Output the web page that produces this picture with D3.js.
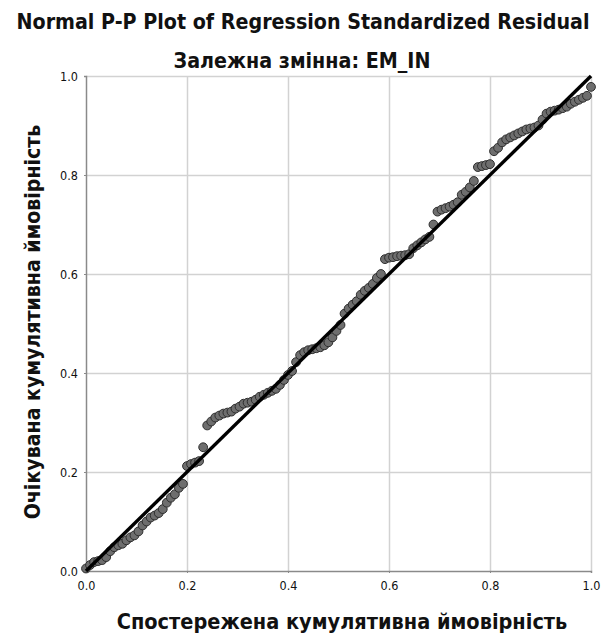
<!DOCTYPE html>
<html>
<head>
<meta charset="utf-8">
<script src="https://cdn.jsdelivr.net/npm/d3@7"></script>
<style>
  body { margin: 0; background: #fff; }
  text { font-family: "DejaVu Sans Condensed", "DejaVu Sans", sans-serif; fill: #111; }
</style>
</head>
<body>
<svg id="chart" width="606" height="637"></svg>
<script>
// Observed cumulative probability of the sorted standardized residuals
const observed = [
  0.000,0.008,0.016,0.024,0.032,0.040,0.048,0.056,0.064,0.072,
  0.080,0.088,0.096,0.104,0.112,0.120,0.128,0.136,0.144,0.152,
  0.160,0.168,0.176,0.184,0.192,0.200,0.208,0.216,0.224,0.232,
  0.240,0.248,0.256,0.264,0.272,0.280,0.288,0.296,0.304,0.312,
  0.320,0.328,0.336,0.344,0.352,0.360,0.368,0.376,0.384,0.392,
  0.400,0.408,0.416,0.424,0.432,0.440,0.448,0.456,0.464,0.472,
  0.480,0.488,0.496,0.504,0.512,0.520,0.528,0.536,0.544,0.552,
  0.560,0.568,0.576,0.584,0.592,0.600,0.608,0.616,0.624,0.632,
  0.640,0.648,0.656,0.664,0.672,0.680,0.688,0.696,0.704,0.712,
  0.720,0.728,0.736,0.744,0.752,0.760,0.768,0.776,0.784,0.792,
  0.800,0.808,0.816,0.824,0.832,0.840,0.848,0.856,0.864,0.872,
  0.880,0.888,0.896,0.904,0.912,0.920,0.928,0.936,0.944,0.952,
  0.960,0.968,0.976,0.984,0.992,1.000
];

// Expected cumulative probability under the normal distribution
const expected = [
  0.005,0.012,0.018,0.020,0.022,0.028,0.040,0.048,0.052,0.055,
  0.062,0.068,0.072,0.080,0.092,0.100,0.108,0.112,0.117,0.125,
  0.138,0.148,0.155,0.168,0.176,0.212,0.216,0.219,0.222,0.250,
  0.294,0.302,0.310,0.314,0.318,0.320,0.322,0.328,0.332,0.338,
  0.340,0.342,0.346,0.352,0.356,0.360,0.364,0.368,0.376,0.386,
  0.396,0.404,0.422,0.436,0.442,0.446,0.448,0.450,0.452,0.456,
  0.462,0.472,0.485,0.497,0.520,0.530,0.538,0.545,0.558,0.566,
  0.572,0.580,0.592,0.600,0.630,0.633,0.634,0.636,0.637,0.638,
  0.640,0.652,0.658,0.664,0.670,0.675,0.700,0.726,0.730,0.733,
  0.736,0.740,0.745,0.760,0.766,0.775,0.788,0.816,0.818,0.820,
  0.822,0.848,0.855,0.866,0.872,0.876,0.880,0.884,0.888,0.892,
  0.894,0.896,0.900,0.912,0.924,0.928,0.930,0.932,0.935,0.938,
  0.944,0.948,0.952,0.956,0.960,0.978
];

// Reference line of a perfect normal fit
const refLine = [[0, 0], [1, 1]];

const tickValues = [0.0, 0.2, 0.4, 0.6, 0.8, 1.0];
const tickLabels = ["0.0", "0.2", "0.4", "0.6", "0.8", "1.0"];

const titleText = "Normal P-P Plot of Regression Standardized Residual";
const subtitleText = "Залежна змінна: EM_IN";
const xLabelText = "Спостережена кумулятивна ймовірність";
const yLabelText = "Очікувана кумулятивна ймовірність";

const svg = d3.select("#chart");
const plot = { left: 86, right: 591, top: 76, bottom: 571 };

const x = d3.scaleLinear().domain([0, 1]).range([plot.left, plot.right]);
const y = d3.scaleLinear().domain([0, 1]).range([plot.bottom, plot.top]);

// Scale a text element's font size so it spans a given width
function fitWidth(sel, width, baseSize) {
  sel.attr("font-size", baseSize);
  const w = sel.node().getComputedTextLength();
  sel.attr("font-size", (baseSize * width / w).toFixed(2));
}

// Grid lines
const gridColor = "#d2d2d2";
svg.append("g")
  .attr("transform", `translate(0,${plot.bottom})`)
  .call(d3.axisBottom(x).tickValues(tickValues.slice(1)).tickSize(-(plot.bottom - plot.top)).tickFormat(""))
  .call(g => g.select(".domain").remove())
  .call(g => g.selectAll("line").attr("stroke", gridColor).attr("stroke-width", 1.5));

svg.append("g")
  .attr("transform", `translate(${plot.left},0)`)
  .call(d3.axisLeft(y).tickValues(tickValues.slice(1)).tickSize(-(plot.right - plot.left)).tickFormat(""))
  .call(g => g.select(".domain").remove())
  .call(g => g.selectAll("line").attr("stroke", gridColor).attr("stroke-width", 1.5));

// Axes
const axisColor = "#8a8a8a";
const xAxis = svg.append("g")
  .attr("transform", `translate(0,${plot.bottom})`)
  .call(d3.axisBottom(x).tickValues(tickValues).tickSize(2).tickPadding(8)
    .tickFormat((d, i) => tickLabels[i]));
const yAxis = svg.append("g")
  .attr("transform", `translate(${plot.left},0)`)
  .call(d3.axisLeft(y).tickValues(tickValues).tickSize(2).tickPadding(6)
    .tickFormat((d, i) => tickLabels[i]));

[xAxis, yAxis].forEach(g => {
  g.select(".domain").attr("stroke", axisColor).attr("stroke-width", 1.5);
  g.selectAll(".tick line").attr("stroke", axisColor);
  g.selectAll(".tick text")
    .attr("font-family", "DejaVu Sans, sans-serif")
    .attr("font-size", 12.5)
    .attr("fill", "#222");
});

// Points
svg.append("g")
  .selectAll("circle")
  .data(observed.map((o, i) => [o, expected[i]]))
  .join("circle")
  .attr("cx", d => x(d[0]))
  .attr("cy", d => y(d[1]))
  .attr("r", 4.4)
  .attr("fill", "#6e6e6e")
  .attr("stroke", "#2e2e2e")
  .attr("stroke-width", 1);

// Diagonal reference line
svg.append("path")
  .datum(refLine)
  .attr("d", d3.line().x(d => x(d[0])).y(d => y(d[1])))
  .attr("stroke", "#000")
  .attr("stroke-width", 3.4)
  .attr("fill", "none");

// Titles
const title = svg.append("text")
  .attr("x", 303).attr("y", 29)
  .attr("text-anchor", "middle")
  .attr("font-weight", "bold")
  .text(titleText);
fitWidth(title, 573, 17);

const subtitle = svg.append("text")
  .attr("x", 302).attr("y", 68)
  .attr("text-anchor", "middle")
  .attr("font-weight", "bold")
  .text(subtitleText);
fitWidth(subtitle, 257, 17);

const xLabel = svg.append("text")
  .attr("x", 342).attr("y", 629)
  .attr("text-anchor", "middle")
  .attr("font-weight", "bold")
  .text(xLabelText);
fitWidth(xLabel, 451, 19);

const yLabel = svg.append("text")
  .attr("transform", "translate(40,322) rotate(-90)")
  .attr("text-anchor", "middle")
  .attr("font-weight", "bold")
  .text(yLabelText);
fitWidth(yLabel, 395, 19);
</script>
</body>
</html>
